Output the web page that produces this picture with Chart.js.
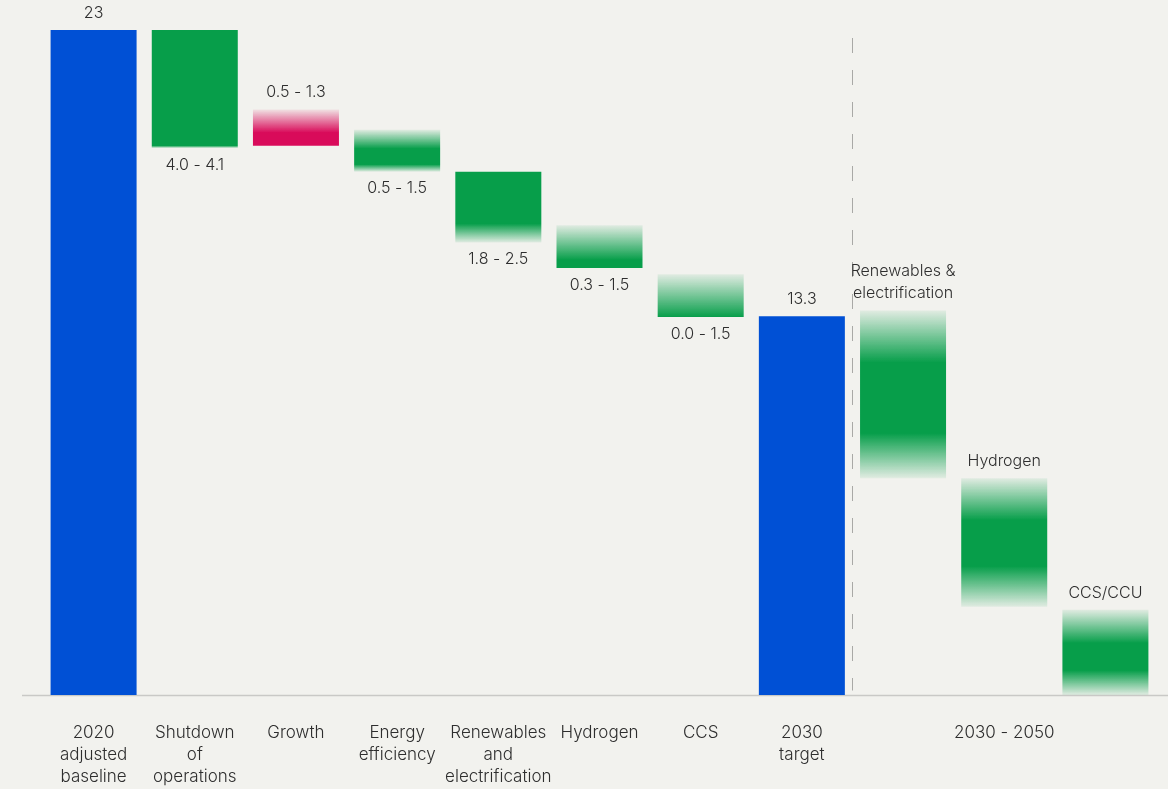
<!DOCTYPE html>
<html>
<head>
<meta charset="utf-8">
<script src="https://cdn.jsdelivr.net/npm/chart.js@4.4.1/dist/chart.umd.min.js"></script>
<style>
  html, body { margin: 0; padding: 0; background: #f2f2ee; }
  #wrap { width: 1168px; height: 789px; position: relative; }
  canvas { display: block; }
</style>
</head>
<body>
<div id="wrap"><canvas id="c" width="1168" height="789"></canvas></div>
<script>
// ---- data (Mt CO2e) ----
const categories = [
  ['2020', 'adjusted', 'baseline'],
  ['Shutdown', 'of', 'operations'],
  'Growth',
  ['Energy', 'efficiency'],
  ['Renewables', 'and', 'electrification'],
  'Hydrogen',
  'CCS',
  ['2030', 'target'],
  '',
  '2030 - 2050',
  ''
];
const kinds      = ['total', 'down', 'up', 'down', 'down', 'down', 'down', 'total', 'down', 'down', 'down'];
const rangeHigh  = [23, 23,   20.25, 19.55, 18.1, 16.25, 14.55, 13.1, 13.3, 7.5,  2.95];
const solidHigh  = [23, 23,   19.45, 18.9,  18.1, 15.05, 13.07, 13.1, 11.5, 6.05, 1.8];
const solidLow   = [0,  19.0, 19.0,  18.35, 16.3, 14.77, 13.07, 0,    9.05, 4.45, 0.85];
const rangeLow   = [0,  18.92,19.0,  18.1,  15.65,14.77, 13.07, 0,    7.5,  3.05, 0];
const valueLabels = ['23', '4.0 - 4.1', '0.5 - 1.3', '0.5 - 1.5', '1.8 - 2.5', '0.3 - 1.5', '0.0 - 1.5', '13.3',
  'Renewables &\nelectrification', 'Hydrogen', 'CCS/CCU'];
const labelSide = ['top', 'bottom', 'top', 'bottom', 'bottom', 'bottom', 'bottom', 'top', 'top', 'top', 'top'];
const yMin = 0, yMax = 23;

// ---- styles ----
const palette = {
  total: { solid: '#0050d5', fade: 'rgba(0,80,213,0.07)' },
  down:  { solid: '#079e4a', fade: 'rgba(7,158,74,0.07)' },
  up:    { solid: '#d90b5a', fade: 'rgba(217,11,90,0.07)' }
};
const TEXT = '#2e2e2e';
const FONT = 'Inter, "Noto Sans", Roboto, sans-serif';

function barFill(ctx) {
  const chart = ctx.chart;
  const i = ctx.dataIndex;
  const base = palette[kinds[i]];
  const y = chart.scales && chart.scales.y;
  if (!chart.chartArea || !y || i === undefined) return base.solid;
  const yTop = y.getPixelForValue(rangeHigh[i]);
  const yBot = y.getPixelForValue(rangeLow[i]);
  const span = rangeHigh[i] - rangeLow[i];
  if (span <= 0 || !isFinite(yTop) || !isFinite(yBot)) return base.solid;
  const fTop = Math.min(1, Math.max(0, (rangeHigh[i] - solidHigh[i]) / span));
  const fBot = Math.min(1, Math.max(fTop, (rangeHigh[i] - solidLow[i]) / span));
  const g = chart.ctx.createLinearGradient(0, yTop, 0, yBot);
  g.addColorStop(0, fTop > 0 ? base.fade : base.solid);
  g.addColorStop(fTop, base.solid);
  g.addColorStop(fBot, base.solid);
  g.addColorStop(1, fBot < 1 ? base.fade : base.solid);
  return g;
}

const decorPlugin = {
  id: 'decor',
  beforeDatasetsDraw(chart) {
    const c = chart.ctx, xs = chart.scales.x, ys = chart.scales.y;
    const y0 = Math.round(ys.getPixelForValue(0)) + 0.5;
    c.save();
    // baseline
    c.strokeStyle = '#c9c9c6';
    c.lineWidth = 1.5;
    c.beginPath();
    c.moveTo(22, y0);
    c.lineTo(1168, y0);
    c.stroke();
    // dashed separator between 2030 target and 2030-2050
    const xd = Math.round(xs.getPixelForValue(7.5)) + 0.5;
    c.strokeStyle = '#a9a9a6';
    c.lineWidth = 1;
    c.setLineDash([15, 17]);
    c.beginPath();
    c.moveTo(xd, 38);
    c.lineTo(xd, y0 - 5);
    c.stroke();
    c.restore();
  },
  afterDatasetsDraw(chart) {
    const c = chart.ctx, ys = chart.scales.y;
    const meta = chart.getDatasetMeta(0);
    c.save();
    c.fillStyle = TEXT;
    c.font = '300 16px ' + FONT;
    c.textAlign = 'center';
    c.textBaseline = 'middle';
    const lh = 22, off = 17;
    meta.data.forEach((bar, i) => {
      const lines = valueLabels[i].split('\n');
      if (labelSide[i] === 'top') {
        const yb = ys.getPixelForValue(rangeHigh[i]) - off;
        lines.forEach((t, k) => c.fillText(t, bar.x, yb - (lines.length - 1 - k) * lh));
      } else {
        const yt = ys.getPixelForValue(rangeLow[i]) + off;
        lines.forEach((t, k) => c.fillText(t, bar.x, yt + k * lh));
      }
    });
    c.restore();
  }
};

new Chart(document.getElementById('c'), {
  type: 'bar',
  data: {
    labels: categories,
    datasets: [{
      data: rangeLow.map((lo, i) => [lo, rangeHigh[i]]),
      backgroundColor: barFill,
      borderWidth: 0,
      borderSkipped: false,
      barPercentage: 0.85,
      categoryPercentage: 1.0
    }]
  },
  options: {
    responsive: false,
    animation: false,
    layout: { padding: { top: 30, left: 43, right: 12, bottom: 0 } },
    plugins: { legend: { display: false }, tooltip: { enabled: false } },
    scales: {
      x: {
        grid: { display: false, drawTicks: false },
        border: { display: false },
        ticks: {
          color: TEXT,
          font: { family: FONT, size: 17, weight: '300', lineHeight: 1.3 },
          padding: 27,
          maxRotation: 0,
          minRotation: 0,
          autoSkip: false
        },
        afterFit(scale) { scale.height = 94; }
      },
      y: {
        display: false,
        min: yMin,
        max: yMax
      }
    }
  },
  plugins: [decorPlugin]
});
</script>
</body>
</html>
